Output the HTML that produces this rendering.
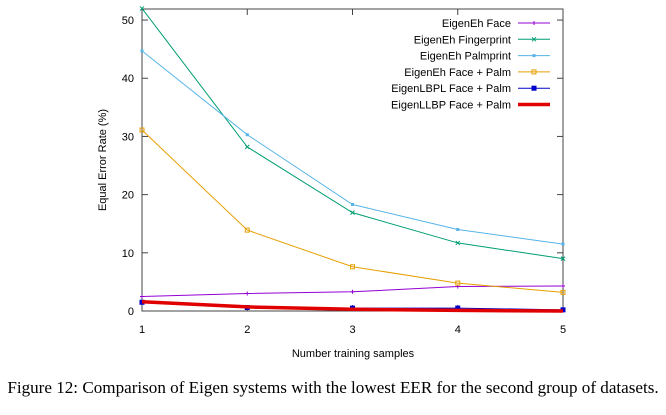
<!DOCTYPE html>
<html><head><meta charset="utf-8"><style>
body{margin:0;background:#fff;width:666px;height:410px;overflow:hidden}
svg{font-family:"Liberation Sans",sans-serif}
</style></head><body>
<svg id="c" width="666" height="410">
<text x="353" y="357" font-size="11" text-anchor="middle">Number training samples</text>
<text transform="translate(106,160) rotate(-90)" font-size="11" text-anchor="middle">Equal Error Rate (%)</text>
<text x="333" y="393" font-size="17.1" text-anchor="middle" font-family="Liberation Serif,serif">Figure 12: Comparison of Eigen systems with the lowest EER for the second group of datasets.</text>
</svg>
<script>
const categories=[1,2,3,4,5];
const yTicks=[0,10,20,30,40,50];
const seriesNames=["EigenEh Face","EigenEh Fingerprint","EigenEh Palmprint","EigenEh Face + Palm","EigenLBPL Face + Palm","EigenLLBP Face + Palm"];
const face=[2.5,3.0,3.3,4.2,4.3];
const fingerprint=[52,28.2,16.9,11.7,9.0];
const palmprint=[44.7,30.3,18.3,14.0,11.5];
const facePalm=[31.1,13.9,7.6,4.8,3.2];
const lbpl=[1.5,0.6,0.5,0.5,0.2];
const llbp=[1.6,0.7,0.3,0.1,0.0];
const NS="http://www.w3.org/2000/svg",svg=document.getElementById('c');
const L=142,R=563,T=9,B=311,ymax=51.9;
const X=v=>L+(v-1)/4*(R-L), Y=v=>B-v/ymax*(B-T);
function el(t,a,p){const e=document.createElementNS(NS,t);for(const k in a)e.setAttribute(k,a[k]);(p||svg).appendChild(e);return e;}
const frame=el('rect',{x:L,y:T,width:R-L,height:B-T,fill:'none',stroke:'#444','stroke-width':1});


yTicks.forEach(v=>{
 el('line',{x1:L,x2:L+6,y1:Y(v),y2:Y(v),stroke:'#444'});
 el('line',{x1:R,x2:R-6,y1:Y(v),y2:Y(v),stroke:'#444'});
 const t=el('text',{x:L-8,y:Y(v)+4,'font-size':11,'text-anchor':'end'});t.textContent=v;
 
 
});
categories.forEach(v=>{
 el('line',{x1:X(v),x2:X(v),y1:B,y2:B-6,stroke:'#444'});
 el('line',{x1:X(v),x2:X(v),y1:T,y2:T+6,stroke:'#444'});
 const t=el('text',{x:X(v),y:B+22,'font-size':11,'text-anchor':'middle'});t.textContent=v;
 
 
});
const data=[face,fingerprint,palmprint,facePalm,lbpl,llbp];
const colors=['#9400d3','#009e73','#56b4e9','#e69f00','#0000cc','#e00000'];
const widths=[1,1,1,1,1,3.5];
const marks=['plus','x','sq','sqo','sqf',null];
const slugs=['face','fingerprint','palmprint','face-palm','lbpl','llbp'];
function marker(type,x,y,c,g){
 if(type==='plus'){el('path',{d:`M${x-2} ${y}h4M${x} ${y-2}v4`,stroke:c},g);}
 else if(type==='x'){el('path',{d:`M${x-2} ${y-2}l4 4M${x-2} ${y+2}l4 -4`,stroke:c},g);}
 else if(type==='sq'){el('rect',{x:x-1.5,y:y-1.5,width:3,height:3,fill:c},g);}
 else if(type==='sqo'){el('rect',{x:x-2,y:y-2,width:4,height:4,fill:'none',stroke:c},g);}
 else if(type==='sqf'){el('rect',{x:x-2.5,y:y-2.5,width:5,height:5,fill:c},g);}
}
data.forEach((s,i)=>{
 const g=el('g',{});
 
 
 el('polyline',{points:s.map((v,j)=>X(categories[j])+','+Y(v)).join(' '),fill:'none',stroke:colors[i],'stroke-width':widths[i]},g);
 if(marks[i]) s.forEach((v,j)=>marker(marks[i],X(categories[j]),Y(v),colors[i],g));
 const ly=23+i*16.3;
 const lg=el('g',{});
 
 
 const t=el('text',{x:511,y:ly+4,'font-size':11,'text-anchor':'end'},lg);t.textContent=seriesNames[i];
 el('line',{x1:518,x2:550,y1:ly,y2:ly,stroke:colors[i],'stroke-width':widths[i]},lg);
 if(marks[i]) marker(marks[i],534,ly,colors[i],lg);
});
</script>
</body></html>
